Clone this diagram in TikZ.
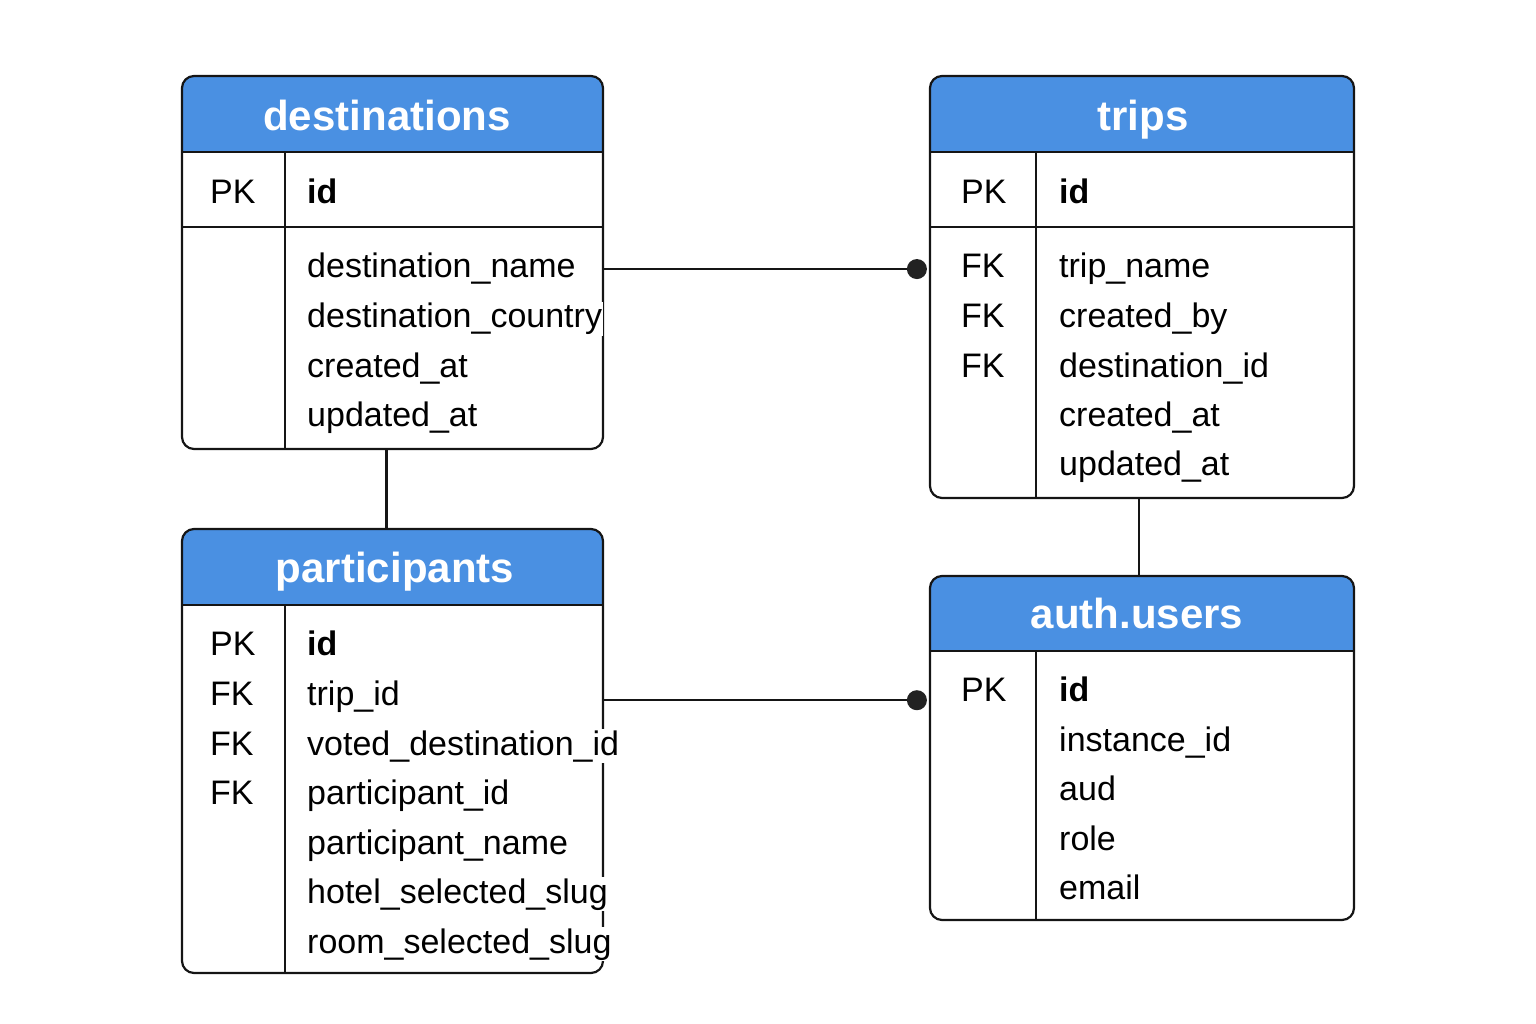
\documentclass[tikz,border=0pt]{standalone}
\usepackage{fontspec}
\setmainfont{Liberation Sans}
\usetikzlibrary{arrows.meta}
\definecolor{hdr}{HTML}{4A90E2}
\definecolor{ln}{HTML}{151515}
\definecolor{dotc}{HTML}{222222}
\tikzset{
  tbl/.style={draw=ln, line width=2.2pt, rounded corners=12pt, inner sep=0pt},
  rule/.style={draw=ln, line width=2.2pt},
  hdrtext/.style={text=white, font=\fontsize{42}{48}\selectfont\bfseries, anchor=base, inner sep=0pt},
  keytext/.style={font=\fontsize{34}{40}\selectfont, anchor=base west, inner sep=0pt, text=black},
  coltext/.style={font=\fontsize{34}{40}\selectfont, anchor=base west, inner sep=1pt, fill=white, text=black},
  idtext/.style={coltext, font=\fontsize{34}{40}\selectfont\bfseries},
  conn/.style={draw=ln, line width=2.2pt},
  dotend/.style={-{Circle[length=20pt,width=20pt,color=dotc]}, shorten >=2pt},
}
\begin{document}
\begin{tikzpicture}[x=1pt,y=-1pt]
\useasboundingbox (0,0) rectangle (1536,1024);

% ---------- destinations ----------
\begin{scope}
  \clip[rounded corners=12pt] (182,76) rectangle (603,449);
  \fill[hdr] (182,76) rectangle (603,152);
\end{scope}
\node[tbl, minimum width=421pt, minimum height=373pt] (dest) at (392.5,262.5) {};
\draw[rule] (182,152) -- (603,152);
\draw[rule] (182,227) -- (603,227);
\draw[rule] (285,152) -- (285,449);
\node[hdrtext] (destH) at (387,131) {destinations};
\node[keytext] (destPK) at (210,204) {PK};
\node[idtext] (destId) at (306,204) {id};
\node[coltext] (dname) at (306,278) {destination\_name};
\node[coltext] (dcountry) at (306,327.5) {destination\_country};
\node[coltext] (dcreated) at (306,377) {created\_at};
\node[coltext] (dupdated) at (306,426.5) {updated\_at};

% ---------- trips ----------
\begin{scope}
  \clip[rounded corners=12pt] (930,76) rectangle (1354,498);
  \fill[hdr] (930,76) rectangle (1354,152);
\end{scope}
\node[tbl, minimum width=424pt, minimum height=422pt] (trips) at (1142,287) {};
\draw[rule] (930,152) -- (1354,152);
\draw[rule] (930,227) -- (1354,227);
\draw[rule] (1036,152) -- (1036,498);
\node[hdrtext] (tripsH) at (1143,131) {trips};
\node[keytext] (tPK) at (961,204) {PK};
\node[idtext] (tId) at (1058,204) {id};
\node[keytext] (tFK1) at (961,278) {FK};
\node[keytext] (tFK2) at (961,327) {FK};
\node[keytext] (tFK3) at (961,377) {FK};
\node[coltext] (tname) at (1058,278) {trip\_name};
\node[coltext] (tcreatedby) at (1058,327) {created\_by};
\node[coltext] (tdestid) at (1058,377) {destination\_id};
\node[coltext] (tcreated) at (1058,426) {created\_at};
\node[coltext] (tupdated) at (1058,475) {updated\_at};

% ---------- participants ----------
\begin{scope}
  \clip[rounded corners=12pt] (182,529) rectangle (603,973);
  \fill[hdr] (182,529) rectangle (603,605);
\end{scope}
\node[tbl, minimum width=421pt, minimum height=444pt] (part) at (392.5,751) {};
\draw[rule] (182,605) -- (603,605);
\draw[rule] (285,605) -- (285,973);
\node[hdrtext] (partH) at (395,582) {participants};
\node[keytext] (pPK) at (210,655) {PK};
\node[keytext] (pFK1) at (210,705) {FK};
\node[keytext] (pFK2) at (210,755) {FK};
\node[keytext] (pFK3) at (210,804) {FK};
\node[idtext] (pId) at (306,655) {id};
\node[coltext] (ptrip) at (306,705) {trip\_id};
\node[coltext] (pvoted) at (306,755) {voted\_destination\_id};
\node[coltext] (ppid) at (306,804) {participant\_id};
\node[coltext] (ppname) at (306,854) {participant\_name};
\node[coltext] (photel) at (306,903) {hotel\_selected\_slug};
\node[coltext] (proom) at (306,953) {room\_selected\_slug};

% ---------- auth.users ----------
\begin{scope}
  \clip[rounded corners=12pt] (930,576) rectangle (1354,920);
  \fill[hdr] (930,576) rectangle (1354,651);
\end{scope}
\node[tbl, minimum width=424pt, minimum height=344pt] (auth) at (1142,748) {};
\draw[rule] (930,651) -- (1354,651);
\draw[rule] (1036,651) -- (1036,920);
\node[hdrtext] (authH) at (1137,628) {auth.users};
\node[keytext] (aPK) at (961,701) {PK};
\node[idtext] (aId) at (1058,701) {id};
\node[coltext] (ainst) at (1058,751) {instance\_id};
\node[coltext] (aaud) at (1058,800) {aud};
\node[coltext] (arole) at (1058,850) {role};
\node[coltext] (aemail) at (1058,899) {email};

% ---------- connectors ----------
\draw[conn, dotend] (dest.east |- dname.west) -- (trips.west |- dname.west);
\draw[conn, dotend] ([yshift=-4pt]part.east |- ptrip.west) -- ([yshift=-4pt]auth.west |- ptrip.west);
\draw[conn] ([xshift=-6pt]dest.south) -- ([xshift=-6pt]part.north);
\draw[conn] ([xshift=-3pt]trips.south) -- ([xshift=-3pt]auth.north);
\end{tikzpicture}
\end{document}
